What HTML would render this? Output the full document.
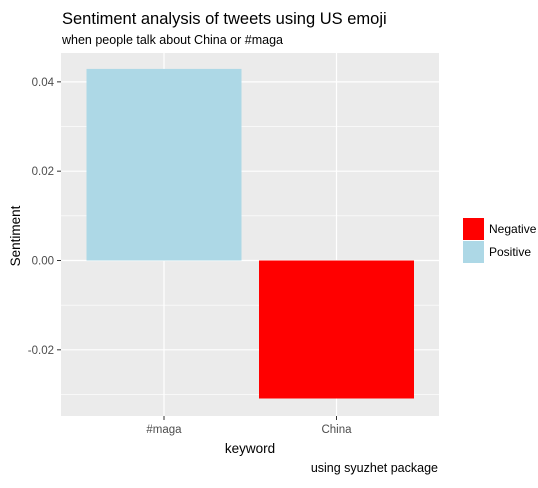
<!DOCTYPE html>
<html><head><meta charset="utf-8"><style>
body{margin:0;background:#fff;font-family:"Liberation Sans",sans-serif}
text{font-family:"Liberation Sans",sans-serif}
</style></head><body>
<svg id="c" width="538" height="483" xmlns="http://www.w3.org/2000/svg">
<text x="62" y="24" font-size="16.5" fill="#000">Sentiment analysis of tweets using US emoji</text>
<text x="62" y="44" font-size="12.5" fill="#000">when people talk about China or #maga</text>
<rect x="61" y="53" width="378" height="363" fill="#ebebeb"/>
<g id="grid"></g><g id="bars"></g><g id="axes"></g>
<text x="250" y="453" font-size="13.5" text-anchor="middle" fill="#000">keyword</text>
<text x="20" y="236" font-size="13.5" text-anchor="middle" fill="#000" transform="rotate(-90 20 236)">Sentiment</text>
<text x="438" y="472" font-size="12.5" text-anchor="end" fill="#000">using syuzhet package</text>
<g>
<rect x="463" y="218" width="21" height="22" fill="#ff0000"/>
<text x="489" y="233" font-size="12">Negative</text>
<rect x="463" y="241" width="21" height="22" fill="#add8e6"/>
<text x="489" y="256" font-size="12">Positive</text>
</g>
</svg>
<script>
const categories=["#maga","China"];
const values=[0.0429,-0.0309];
const fills=["#add8e6","#ff0000"];
const yTicks=[-0.02,0,0.02,0.04];
const yTickLabels=["-0.02","0.00","0.02","0.04"];
const NS="http://www.w3.org/2000/svg";
const y=v=>260.5-v*4466;
const x=i=>164+i*172.5;
function mk(t,a,p){const e=document.createElementNS(NS,t);for(const k in a)e.setAttribute(k,a[k]);p.appendChild(e);return e;}
const g=document.getElementById('grid'),b=document.getElementById('bars'),ax=document.getElementById('axes');
for(let i=0;i<yTicks.length-1;i++){const m=(yTicks[i]+yTicks[i+1])/2;const l=mk('line',{x1:61,x2:439,y1:y(m),y2:y(m),stroke:'#fff','stroke-width':0.6},g);

}
{const m=yTicks[yTicks.length-1]+0.01;if(y(m)>53){const l=mk('line',{x1:61,x2:439,y1:y(m),y2:y(m),stroke:'#fff','stroke-width':0.6},g);

}}
{const m=yTicks[0]-0.01;if(y(m)<416){const l=mk('line',{x1:61,x2:439,y1:y(m),y2:y(m),stroke:'#fff','stroke-width':0.6},g);

}}
yTicks.forEach((v,i)=>{const l=mk('line',{x1:61,x2:439,y1:y(v),y2:y(v),stroke:'#fff','stroke-width':1.2},g);


const tk=mk('line',{x1:57,x2:61,y1:y(v),y2:y(v),stroke:'#333','stroke-width':1},ax);


const t=mk('text',{x:54,y:y(v)+4,'font-size':11.5,'text-anchor':'end',fill:'#4d4d4d'},ax);t.textContent=yTickLabels[i];

});
categories.forEach((c,i)=>{const l=mk('line',{x1:x(i),x2:x(i),y1:53,y2:416,stroke:'#fff','stroke-width':1.2},g);


const v=values[i];const r=mk('rect',{x:x(i)-77.5,width:155,y:Math.min(y(v),y(0)),height:Math.abs(y(v)-y(0)),fill:v>=0?fills[0]:fills[1]},b);


const tk=mk('line',{x1:x(i),x2:x(i),y1:416,y2:420,stroke:'#333'},ax);


const t=mk('text',{x:x(i),y:433,'font-size':11.5,'text-anchor':'middle',fill:'#4d4d4d'},ax);t.textContent=c;

});
</script>
</body></html>
